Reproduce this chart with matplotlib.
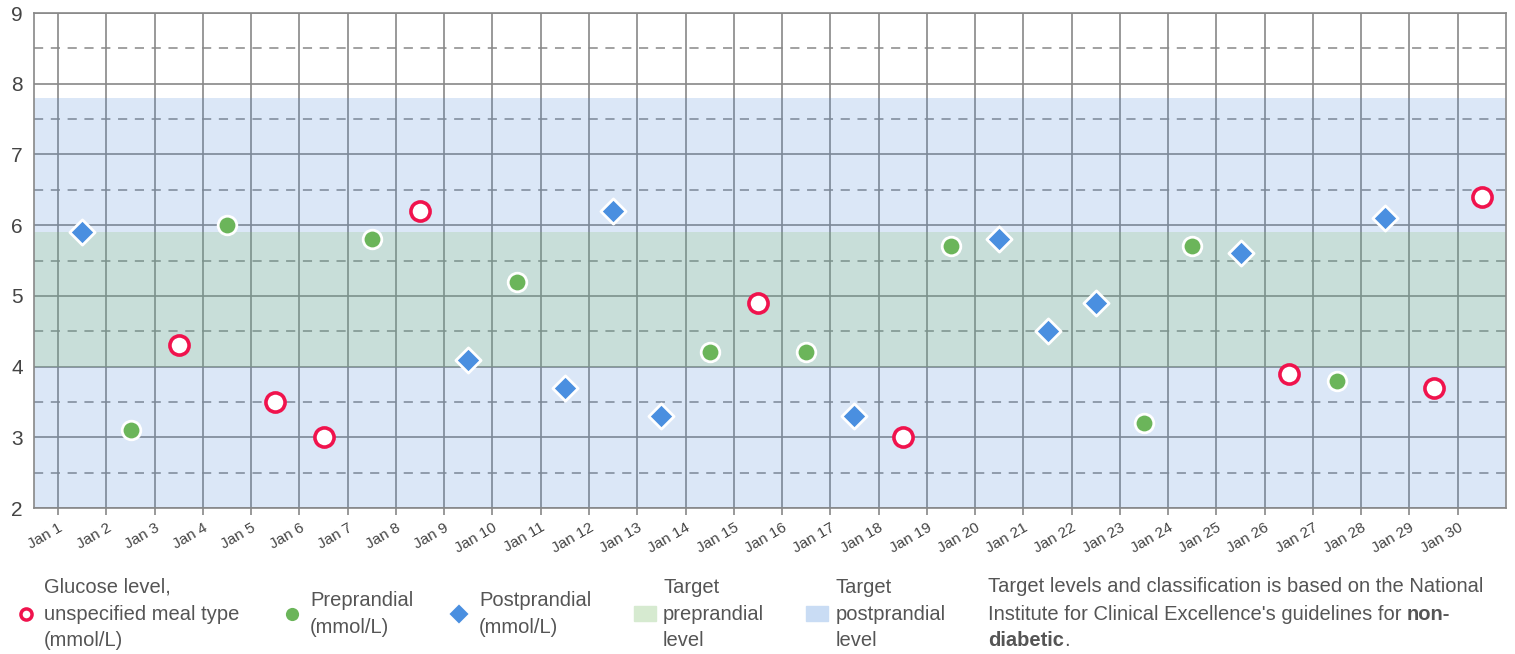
import numpy as np
import matplotlib
matplotlib.use("Agg")
from matplotlib import pyplot as plt
from matplotlib.lines import Line2D
from matplotlib.patches import Rectangle

plt.rcParams['font.family'] = ['Liberation Sans', 'DejaVu Sans']

# glucose readings, one per day (plotted at mid-day)
days = np.arange(1, 31)
day_labels = [f"Jan {d}" for d in days]

unspec_days = [3, 5, 6, 8, 15, 18, 26, 29, 30]
unspec_vals = [4.3, 3.5, 3.0, 6.2, 4.9, 3.0, 3.9, 3.7, 6.4]

pre_days = [2, 4, 7, 10, 14, 16, 19, 23, 24, 27]
pre_vals = [3.1, 6.0, 5.8, 5.2, 4.2, 4.2, 5.7, 3.2, 5.7, 3.8]

post_days = [1, 9, 11, 12, 13, 17, 20, 21, 22, 25, 28]
post_vals = [5.9, 4.1, 3.7, 6.2, 3.3, 3.3, 5.8, 4.5, 4.9, 5.6, 6.1]

pre_target = (4.0, 5.9)
post_target = (2.0, 7.8)

red = '#f0134d'
green = '#6bb55a'
blue = '#4a8fe0'
txt = '#555555'

fig = plt.figure(figsize=(15.15, 6.54), dpi=100)
ax = fig.add_axes([34/1515, 146/654, 1472/1515, 495/654])

ax.set_xlim(0.5, 31)
ax.set_ylim(2, 9)

# grid first, bands drawn translucent on top
ax.set_xticks(days)
ax.set_xticklabels(day_labels, rotation=30, ha='right', rotation_mode='anchor',
                   fontsize=11, color='#444444')
ax.set_yticks(np.arange(2, 10))
ax.set_yticks(np.arange(2.5, 9, 1), minor=True)
ax.tick_params(axis='y', which='both', length=0, labelsize=15, labelcolor='#444444', pad=8)
ax.tick_params(axis='x', length=5, color='#888888', width=1.2, pad=4)
ax.grid(True, which='major', color='#888888', linewidth=1.2, zorder=0)
ax.grid(True, which='minor', axis='y', color='#888888', linewidth=1.1,
        linestyle=(0, (6, 5)), zorder=0)
ax.set_axisbelow(True)
for s in ax.spines.values():
    s.set_color('#888888')
    s.set_linewidth(1.2)

ax.axhspan(*post_target, color='#4b87d7', alpha=0.2, lw=0, zorder=1)
ax.axhspan(*pre_target, color='#7cba61', alpha=0.2, lw=0, zorder=1)

ax.scatter(np.array(unspec_days) + 0.5, unspec_vals, s=190, marker='o',
           facecolor='white', edgecolor=red, linewidths=2.6, zorder=3)
ax.scatter(np.array(pre_days) + 0.5, pre_vals, s=180, marker='o',
           facecolor=green, edgecolor='white', linewidths=2, zorder=3)
ax.scatter(np.array(post_days) + 0.5, post_vals, s=165, marker='D',
           facecolor=blue, edgecolor='white', linewidths=2, zorder=3)


def fx(px):
    return px / 1515


def fy(py):
    return (654 - py) / 654


ly = 614
fs = 14.5
ls = 1.52
fig.add_artist(Line2D([fx(26)], [fy(ly)], marker='o', markersize=8, markerfacecolor='white',
                      markeredgecolor=red, markeredgewidth=2.5, transform=fig.transFigure))
fig.text(fx(44), fy(ly), "Glucose level,\nunspecified meal type\n(mmol/L)", va='center',
         fontsize=fs, color=txt, linespacing=ls)

fig.add_artist(Line2D([fx(292)], [fy(ly)], marker='o', markersize=11, markerfacecolor=green,
                      markeredgecolor='white', markeredgewidth=1.5, transform=fig.transFigure))
fig.text(fx(310), fy(ly), "Preprandial\n(mmol/L)", va='center', fontsize=fs, color=txt,
         linespacing=ls)

fig.add_artist(Line2D([fx(459)], [fy(ly)], marker='D', markersize=11, markerfacecolor=blue,
                      markeredgecolor='white', markeredgewidth=1.5, transform=fig.transFigure))
fig.text(fx(479), fy(ly), "Postprandial\n(mmol/L)", va='center', fontsize=fs, color=txt,
         linespacing=ls)

fig.add_artist(Rectangle((fx(634), fy(621)), fx(22), 15/654, color='#d6ead0',
                         transform=fig.transFigure))
fig.text(fx(663), fy(ly), "Target\npreprandial\nlevel", va='center', fontsize=fs, color=txt,
         linespacing=ls)

fig.add_artist(Rectangle((fx(806), fy(621)), fx(22), 15/654, color='#c9dcf4',
                         transform=fig.transFigure))
fig.text(fx(836), fy(ly), "Target\npostprandial\nlevel", va='center', fontsize=fs, color=txt,
         linespacing=ls)

# note with bold words
fig.text(fx(988), fy(587), "Target levels and classification is based on the National",
         va='center', fontsize=fs, color=txt)
t2 = fig.text(fx(988), fy(614), "Institute for Clinical Excellence's guidelines for ",
              va='center', fontsize=fs, color=txt)
t3 = fig.text(fx(988), fy(640), "diabetic", va='center', fontsize=fs, color=txt,
              fontweight='bold')
fig.canvas.draw()
r = fig.canvas.get_renderer()
e2 = t2.get_window_extent(r)
fig.text(e2.x1 / fig.bbox.width, fy(614), "non-", va='center', fontsize=fs, color=txt,
         fontweight='bold')
e3 = t3.get_window_extent(r)
fig.text(e3.x1 / fig.bbox.width, fy(640), ".", va='center', fontsize=fs, color=txt)

fig.savefig("out.png", dpi=100)
